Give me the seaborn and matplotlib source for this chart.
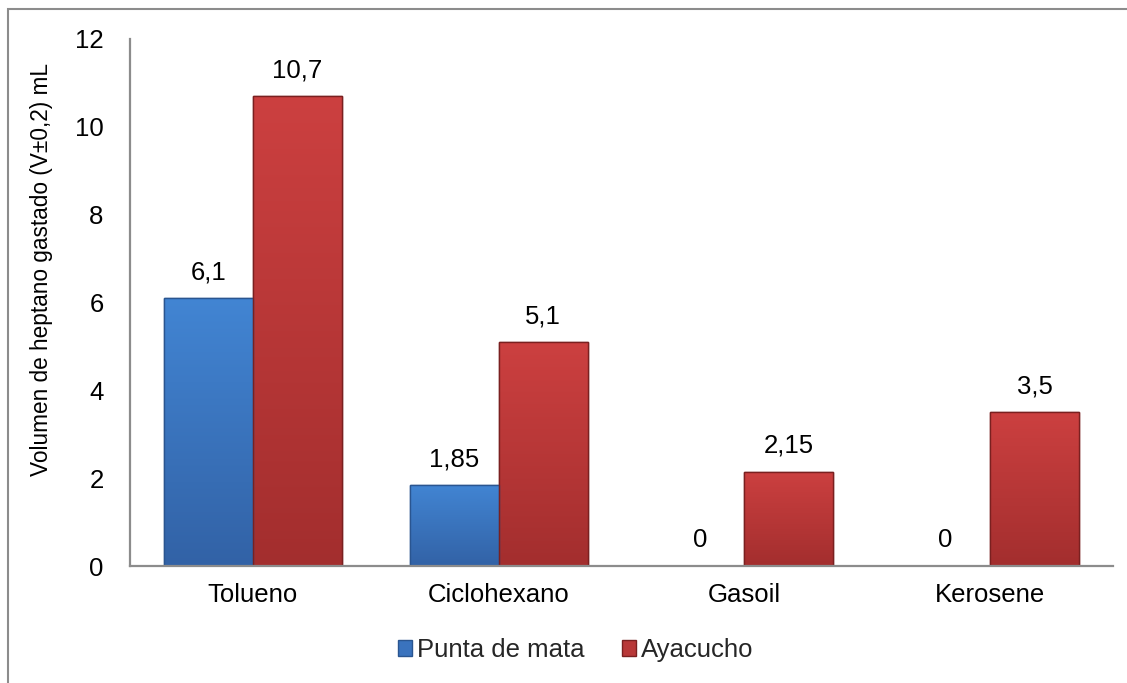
import matplotlib
matplotlib.use("Agg")
import matplotlib.pyplot as plt
import matplotlib.patches as mpatches
import matplotlib.colors as mcolors
import numpy as np
import pandas as pd
import seaborn as sns

categories = ["Tolueno", "Ciclohexano", "Gasoil", "Kerosene"]
series_names = ["Punta de mata", "Ayacucho"]
punta_de_mata = [6.1, 1.85, 0, 0]
ayacucho = [10.7, 5.1, 2.15, 3.5]
value_labels = {
    "Punta de mata": ["6,1", "1,85", "0", "0"],
    "Ayacucho": ["10,7", "5,1", "2,15", "3,5"],
}
y_ticks = [0, 2, 4, 6, 8, 10, 12]
y_label = "Volumen de heptano gastado (V±0,2) mL"

df = pd.DataFrame({
    "Categoria": categories * 2,
    "Serie": [series_names[0]] * 4 + [series_names[1]] * 4,
    "Valor": punta_de_mata + ayacucho,
})

sns.set_theme(style="white")
plt.rcParams["font.family"] = ["Liberation Sans", "DejaVu Sans"]

fig = plt.figure(figsize=(11.27, 6.83), dpi=100)
ax = fig.add_axes([0.1153, 0.1713, 0.8723, 0.7716])

base_colors = {"Punta de mata": "#3A73BE", "Ayacucho": "#B83838"}
top_colors = {"Punta de mata": "#4285D3", "Ayacucho": "#CC4040"}
bot_colors = {"Punta de mata": "#3262A6", "Ayacucho": "#A32E2E"}
edge_colors = {"Punta de mata": "#2A5590", "Ayacucho": "#7A2020"}

sns.barplot(data=df, x="Categoria", y="Valor", hue="Serie",
            order=categories, hue_order=series_names,
            palette=base_colors, width=0.724, gap=0, ax=ax,
            legend=True, saturation=1)

# gradient fill + edges + labels
for cont, name in zip(ax.containers, series_names):
    for patch, lab in zip(cont.patches, value_labels[name]):
        patch.set_edgecolor(edge_colors[name])
        patch.set_linewidth(1.0)
        x0, y0 = patch.get_x(), patch.get_y()
        w, h = patch.get_width(), patch.get_height()
        if h > 0:
            cmap = mcolors.LinearSegmentedColormap.from_list(
                "g", [bot_colors[name], top_colors[name]])
            grad = np.linspace(0, 1, 256).reshape(-1, 1)
            im = ax.imshow(grad, cmap=cmap, origin="lower", aspect="auto",
                           extent=[x0, x0 + w, y0, y0 + h], zorder=patch.get_zorder() + 0.1,
                           interpolation="bicubic")
            im.set_clip_path(patch)
            border = mpatches.Rectangle((x0, y0), w, h, fill=False,
                                        edgecolor=edge_colors[name], linewidth=1.0,
                                        zorder=patch.get_zorder() + 0.2)
            ax.add_patch(border)
        ax.annotate(lab, (x0 + w / 2, y0 + h), xytext=(0, 13.5),
                    textcoords="offset points", ha="center", va="baseline",
                    fontsize=18.5, color="black")

ax.set_xlim(-0.5, 3.5)
ax.set_ylim(0, 12)
ax.set_yticks(y_ticks)
ax.set_yticklabels([str(t) for t in y_ticks])
ax.tick_params(axis="y", length=0, pad=19, labelsize=18.5, labelcolor="black")
ax.tick_params(axis="x", length=0, pad=12, labelsize=18.5, labelcolor="black")
ax.set_xlabel("")
ax.set_ylabel(y_label, fontsize=16.3, color="black")
ax.yaxis.set_label_coords(-0.0900, 0.5617)
ax.yaxis.label.set_va("center")

for side in ["top", "right"]:
    ax.spines[side].set_visible(False)
for side in ["left", "bottom"]:
    ax.spines[side].set_color("#8C8C8C")
    ax.spines[side].set_linewidth(1.6)

# legend
handles = [mpatches.Patch(facecolor=base_colors[n], edgecolor=edge_colors[n], label=n)
           for n in series_names]
if ax.get_legend() is not None:
    ax.get_legend().remove()
fig.legend(handles=handles, loc="center", bbox_to_anchor=(0.511, 0.048), ncol=2,
           frameon=False, fontsize=18.5, handlelength=0.55, handleheight=0.55,
           handletextpad=0.2, columnspacing=1.45)

# outer chart border
border = mpatches.Rectangle((0.0071, -0.05), 1.2, 0.05 + 0.9868, transform=fig.transFigure,
                            fill=False, edgecolor="#8C8C8C", linewidth=1.5)
fig.add_artist(border)

fig.savefig("out.png", dpi=100)
